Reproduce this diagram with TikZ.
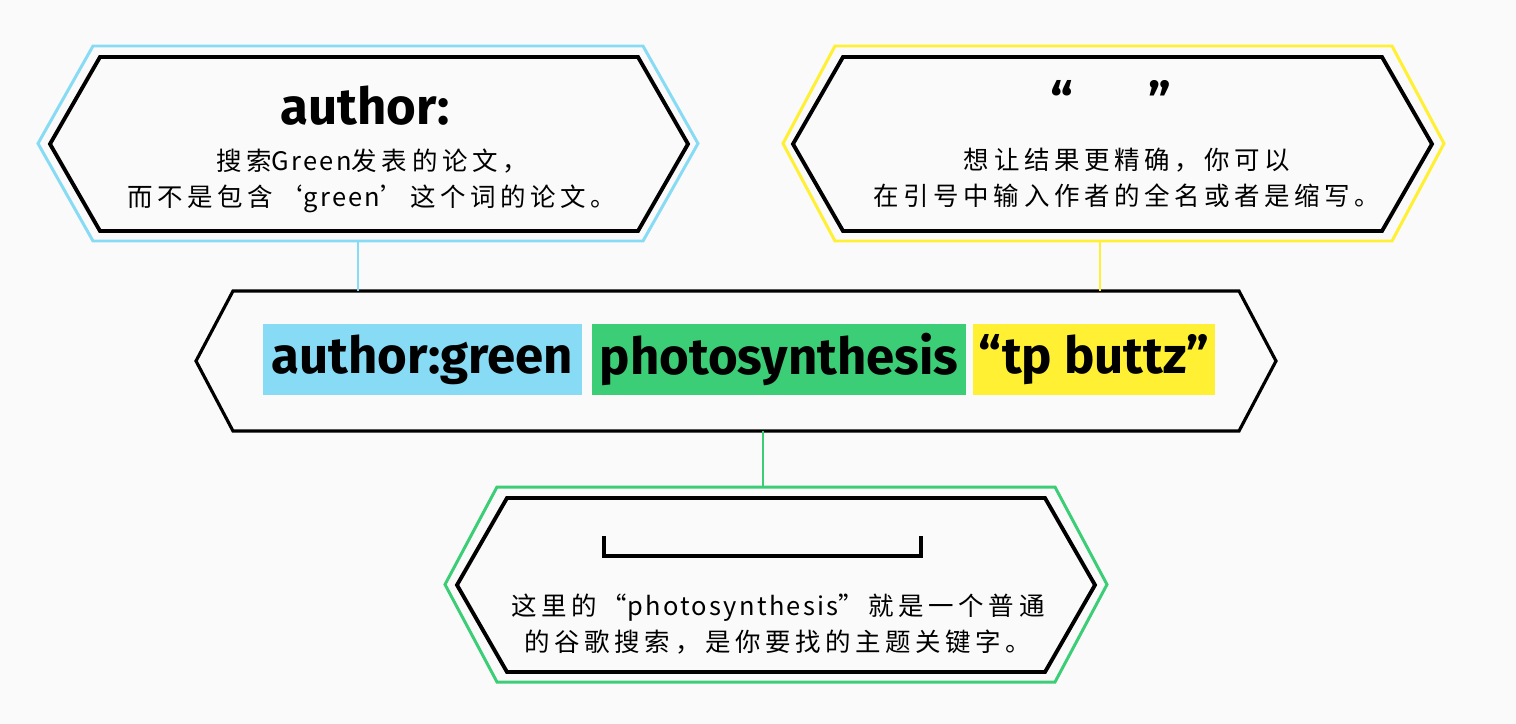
\documentclass[tikz,border=0pt]{standalone}
\usepackage{fontspec}
\setmainfont{Fira Sans}
\newfontfamily\cjk[LetterSpace=18]{Noto Sans CJK SC}
\newfontfamily\cjklat[LetterSpace=9]{Noto Sans CJK SC}
\newcommand{\lat}[1]{{\cjklat #1}}
\definecolor{skyblue}{HTML}{87DBF4}
\definecolor{leafgreen}{HTML}{3CCD77}
\definecolor{lemon}{HTML}{FFF033}
\definecolor{paper}{HTML}{FAFAFA}
% hexagon: style, cx, cy, half width, half height, tip depth
\newcommand{\hexa}[6]{%
  \draw[#1] ({#2-#4},#3) -- ({#2-#4+#6},{#3-#5}) -- ({#2+#4-#6},{#3-#5})
    -- ({#2+#4},#3) -- ({#2+#4-#6},{#3+#5}) -- ({#2-#4+#6},{#3+#5}) -- cycle;}
\tikzset{
  hexline/.style={black, line width=2.2pt, line join=miter},
  rim/.style={line width=1.7pt, line join=miter},
  title/.style={font=\bfseries\fontsize{29}{29}\selectfont, inner sep=0pt},
  note/.style={font=\cjk\fontsize{14.5}{20.4}\selectfont, align=center, inner sep=0pt},
  kw/.style={font=\bfseries\fontsize{29}{29}\selectfont, inner sep=0pt, minimum height=1.42cm}
}
\begin{document}
\begin{tikzpicture}[x=0.02cm, y=-0.02cm]
  \fill[paper] (0,0) rectangle (1516,724);
  \useasboundingbox (0,0) rectangle (1516,724);
  % boxes
  \hexa{rim, skyblue}{368}{143.5}{330}{97.5}{55}
  \hexa{hexline}{369}{144}{319}{87}{50}
  \hexa{rim, lemon}{1113.5}{143.5}{330.5}{97.5}{52}
  \hexa{hexline}{1112.5}{144}{319.5}{87}{50}
  \hexa{hexline, line width=1.8pt}{736}{361}{540}{70}{37}
  \hexa{rim, leafgreen}{776}{584.5}{331}{97.5}{52}
  \hexa{hexline}{776}{585}{319}{87}{50}
  % anchors for the connectors
  \coordinate (A-foot) at (358,241);
  \coordinate (M-headA) at (358,291);
  \coordinate (B-foot) at (1100,241);
  \coordinate (M-headB) at (1100,291);
  \coordinate (M-foot) at (763,431);
  \coordinate (C-head) at (763,487);
  \draw[skyblue, line width=1.5pt] (A-foot) -- (M-headA);
  \draw[lemon, line width=1.5pt] (B-foot) -- (M-headB);
  \draw[leafgreen, line width=1.5pt] (M-foot) -- (C-head);
  % search line
  \node[kw, fill=skyblue, minimum width=6.38cm] (kwauthor) at (422.5,359.5) {author:green};
  \node[kw, fill=leafgreen, minimum width=7.48cm] (kwtopic) at (779,359.5) {photosynthesis};
  \node[kw, fill=lemon, minimum width=4.84cm] (kwquote) at (1094,359.5) {“tp buttz”};
  % box texts
  \node[title] (titleA) at (365,106) {author:};
  \node[note] (noteA) at (372,181) {搜索\lat{Green}发表的论文，\\而不是包含‘\lat{green}’这个词的论文。};
  \node[title] (titleB) at (1111,100) {“\hspace{1.5cm}”};
  \node[note] (noteB) at (1127,178) {想让结果更精确，你可以\\在引号中输入作者的全名或者是缩写。};
  \node[note] (noteC) at (778,624) {这里的“\lat{photosynthesis}”就是一个普通\\的谷歌搜索，是你要找的主题关键字。};
  \draw[black, line width=1.8pt] (604,536) -- (604,556) -- (921,556) -- (921,536);
\end{tikzpicture}
\end{document}
